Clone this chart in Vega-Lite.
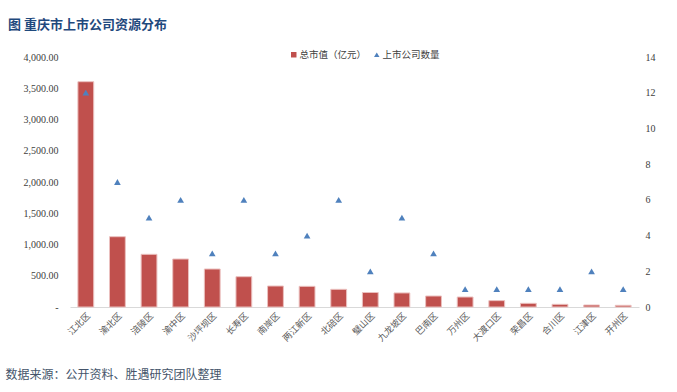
{
  "$schema": "https://vega.github.io/schema/vega-lite/v6.json",
  "width": 569,
  "height": 250,
  "autosize": {"type": "none"},
  "padding": {"left": 70, "top": 57, "right": 38, "bottom": 85},
  "background": "white",
  "config": {"view": {"stroke": null}},
  "title": {
    "text": "图  重庆市上市公司资源分布",
    "anchor": "start",
    "frame": "group",
    "dx": -62,
    "offset": 18,
    "fontSize": 13,
    "font": "Noto Sans CJK SC",
    "fontWeight": "bold",
    "color": "#1F497D"
  },
  "data": {
    "values": [
      {"区": "江北区", "市值": 3605, "数量": 12},
      {"区": "渝北区", "市值": 1125, "数量": 7},
      {"区": "涪陵区", "市值": 843, "数量": 5},
      {"区": "渝中区", "市值": 768, "数量": 6},
      {"区": "沙坪坝区", "市值": 608, "数量": 3},
      {"区": "长寿区", "市值": 485, "数量": 6},
      {"区": "南岸区", "市值": 336, "数量": 3},
      {"区": "两江新区", "市值": 331, "数量": 4},
      {"区": "北碚区", "市值": 283, "数量": 6},
      {"区": "璧山区", "市值": 232, "数量": 2},
      {"区": "九龙坡区", "市值": 225, "数量": 5},
      {"区": "巴南区", "市值": 176, "数量": 3},
      {"区": "万州区", "市值": 160, "数量": 1},
      {"区": "大渡口区", "市值": 102, "数量": 1},
      {"区": "荣昌区", "市值": 59, "数量": 1},
      {"区": "合川区", "市值": 43, "数量": 1},
      {"区": "江津区", "市值": 32, "数量": 2},
      {"区": "开州区", "市值": 27, "数量": 1}
    ]
  },
  "encoding": {
    "x": {
      "field": "区",
      "type": "nominal",
      "sort": null,
      "scale": {"paddingInner": 0.5, "paddingOuter": 0.25},
      "axis": {
        "title": "数据来源：公开资料、胜遇研究团队整理",
        "titleX": -65,
        "titleY": 67,
        "titleAlign": "left",
        "titleBaseline": "middle",
        "titleFont": "Noto Sans CJK SC",
        "titleFontSize": 12,
        "titleFontWeight": "normal",
        "titleColor": "#44546A",
        "domainColor": "#D9D9D9",
        "ticks": false,
        "labelAngle": -45,
        "labelFont": "Noto Sans CJK SC",
        "labelFontSize": 9,
        "labelColor": "#595959",
        "labelPadding": 4
      }
    }
  },
  "layer": [
    {
      "mark": {"type": "bar", "stroke": "#EBC0BF", "strokeWidth": 1},
      "encoding": {
        "y": {
          "field": "市值",
          "type": "quantitative",
          "scale": {"domain": [0, 4000]},
          "axis": {
            "title": null,
            "values": [0, 500, 1000, 1500, 2000, 2500, 3000, 3500, 4000],
            "labelExpr": "datum.value == 0 ? '-' : format(datum.value, ',.2f')",
            "grid": false,
            "domain": false,
            "ticks": false,
            "labelPadding": 12,
            "labelFont": "Liberation Serif",
            "labelFontSize": 10,
            "labelColor": "#404040"
          }
        },
        "color": {
          "datum": "总市值（亿元）",
          "scale": {"domain": ["总市值（亿元）"], "range": ["#C0504D"]},
          "legend": {
            "title": null,
            "orient": "none",
            "legendX": 219,
            "legendY": -7,
            "symbolType": "square",
            "symbolSize": 30,
            "symbolStrokeWidth": 0,
            "labelOffset": 1,
            "labelFont": "Noto Sans CJK SC",
            "labelFontSize": 9.5,
            "labelColor": "#404040"
          }
        }
      }
    },
    {
      "mark": {"type": "point", "shape": "triangle-up", "filled": true, "size": 45, "opacity": 1},
      "encoding": {
        "y": {
          "field": "数量",
          "type": "quantitative",
          "scale": {"domain": [0, 14]},
          "axis": {
            "orient": "right",
            "title": null,
            "values": [0, 2, 4, 6, 8, 10, 12, 14],
            "grid": false,
            "domain": false,
            "ticks": false,
            "labelPadding": 6,
            "labelFont": "Liberation Serif",
            "labelFontSize": 10,
            "labelColor": "#404040"
          }
        },
        "color": {
          "datum": "上市公司数量",
          "scale": {"domain": ["上市公司数量"], "range": ["#4F81BD"]},
          "legend": {
            "title": null,
            "orient": "none",
            "legendX": 302,
            "legendY": -7,
            "symbolType": "triangle-up",
            "symbolSize": 30,
            "symbolOpacity": 1,
            "symbolStrokeWidth": 0,
            "labelOffset": 1,
            "labelFont": "Noto Sans CJK SC",
            "labelFontSize": 9.5,
            "labelColor": "#404040"
          }
        }
      }
    }
  ],
  "resolve": {"scale": {"y": "independent", "color": "independent"}}
}
